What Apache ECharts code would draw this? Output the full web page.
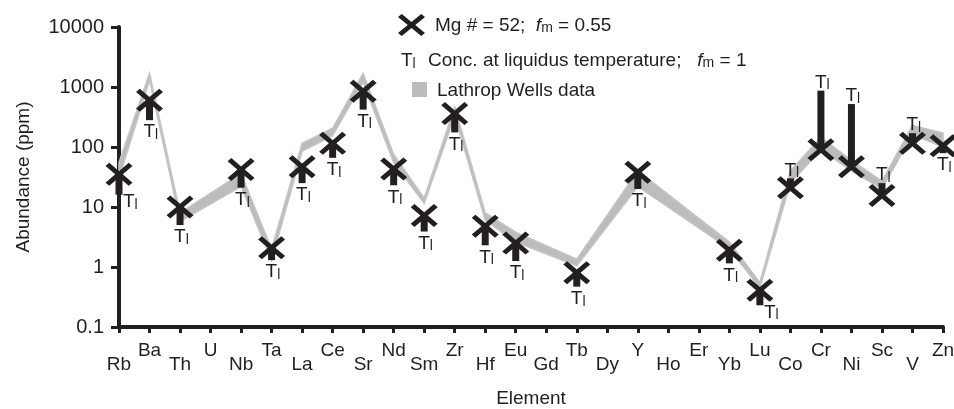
<!DOCTYPE html>
<html><head><meta charset="utf-8">
<script src="https://cdn.jsdelivr.net/npm/echarts@6/dist/echarts.min.js"></script>
<style>html,body{margin:0;padding:0;background:#fff}#c{width:954px;height:409px}</style>
</head><body><div id="c"></div>
<script>
// ---- data ----
const elements = ['Rb','Ba','Th','U','Nb','Ta','La','Ce','Sr','Nd','Sm','Zr','Hf','Eu','Gd','Tb','Dy','Y','Ho','Er','Yb','Lu','Co','Cr','Ni','Sc','V','Zn'];
const mg52       = [35, 600, 10, null, 42, 2.1, 47, 115, 850, 43, 7.2, 360, 4.8, 2.5, null, 0.8, null, 38, null, null, 1.9, 0.41, 21, 90, 47, 15.5, 115, 105];
const liquidus   = [16, 280, 5, null, 21, 1.3, 25, 66, 420, 23, 3.9, 175, 2.3, 1.26, null, 0.47, null, 20, null, null, 1.15, 0.23, 30, 870, 520, 25, 170, 79];
const lathropLow = [30, 1300, 5.7, null, 22, 1.3, 85, 155, 1200, 55, 11.5, 330, 6, 2.6, null, 1.05, null, 22, null, null, 2.0, 0.45, 25, 90, 40, 20, 160, 100];
const lathropHigh= [55, 1700, 8, null, 36, 2.0, 115, 205, 1700, 75, 14, 470, 8, 3.8, null, 1.35, null, 40, null, null, 2.6, 0.55, 40, 145, 60, 27, 230, 170];
const yTicks = [0.1, 1, 10, 100, 1000, 10000];

// ---- style ----
const FONT = 'Liberation Sans, Arial, Helvetica, sans-serif';
const INK = '#231f20';
const BAND = '#bbbcbe';
const X_PTS = [[0,14],[14,0],[50,36],[86,0],[100,14],[64,50],[100,86],[86,100],[50,64],[14,100],[0,86],[36,50]];
const X_PATH = 'path://M' + X_PTS.map(p => p.join(',')).join('L') + 'Z';
const sideLabel = { Rb: true, Lu: true };
const tlRich = {
  t: { fontSize: 19, fontFamily: FONT, fill: INK, color: INK, lineHeight: 20 },
  s: { fontSize: 14, fontFamily: FONT, fill: INK, color: INK, lineHeight: 14, verticalAlign: 'bottom' }
};

const chart = echarts.init(document.getElementById('c'), null, { renderer: 'canvas' });

function renderBand(params, api) {
  if (params.dataIndex !== 0) return;
  const upper = [], lower = [];
  for (let i = 0; i < elements.length; i++) {
    if (lathropLow[i] == null || lathropHigh[i] == null) continue;
    upper.push(api.coord([i, lathropHigh[i]]));
    lower.push(api.coord([i, lathropLow[i]]));
  }
  const pts = upper.concat(lower.reverse());
  return { type: 'polygon', shape: { points: pts }, style: { fill: BAND, stroke: '#c3c4c6', lineWidth: 1.5 } };
}

function renderBar(params, api) {
  const i = params.dataIndex;
  const m = mg52[i], t = liquidus[i];
  if (m == null || t == null) return;
  const p1 = api.coord([i, m]), p2 = api.coord([i, t]);
  const w = 7;
  const top = Math.min(p1[1], p2[1]);
  const h = Math.abs(p1[1] - p2[1]);
  const up = t > m;
  let tx, ty, va;
  if (sideLabel[elements[i]]) { tx = p1[0] + 4; ty = p2[1] - 3; va = 'top'; }
  else if (up) { tx = p1[0] - 6; ty = p2[1] + 2; va = 'bottom'; }
  else { tx = p1[0] - 6; ty = p2[1] + 2; va = 'top'; }
  return {
    type: 'group',
    children: [
      { type: 'rect', shape: { x: p1[0] - w / 2, y: top, width: w, height: h }, style: { fill: INK } },
      { type: 'text', x: tx, y: ty, style: { text: '{t|T}{s|l}', rich: tlRich, align: 'left', verticalAlign: va } }
    ]
  };
}

const legendRich = {
  i: { fontStyle: 'italic', fontSize: 19, fontFamily: FONT, fill: INK },
  s: { fontSize: 14, fontFamily: FONT, fill: INK, verticalAlign: 'bottom', lineHeight: 14 }
};

chart.setOption({
  animation: false,
  backgroundColor: '#fff',
  grid: { left: 119, right: 11, top: 27, bottom: 82, containLabel: false, outerBoundsMode: 'none' },
  xAxis: {
    type: 'category',
    data: elements,
    boundaryGap: false,
    name: 'Element',
    nameLocation: 'middle',
    nameGap: 62,
    nameTextStyle: { fontSize: 19, fontFamily: FONT, color: INK },
    axisLine: { lineStyle: { color: INK, width: 4 } },
    axisTick: { show: true, length: 6, inside: false, lineStyle: { color: INK, width: 3 }, interval: 0 },
    axisLabel: {
      interval: 0, margin: 14, color: INK, fontSize: 19, fontFamily: FONT,
      formatter: (v, idx) => (idx % 2 === 0 ? '{lo|' + v + '}' : '{hi|' + v + '}'),
      rich: {
        lo: { fontSize: 19, fontFamily: FONT, color: INK, padding: [14, 0, 0, 0] },
        hi: { fontSize: 19, fontFamily: FONT, color: INK }
      }
    },
    splitLine: { show: false }
  },
  yAxis: {
    type: 'log',
    logBase: 10,
    min: yTicks[0],
    max: yTicks[yTicks.length - 1],
    name: 'Abundance (ppm)',
    nameLocation: 'middle',
    nameGap: 86,
    nameTextStyle: { fontSize: 19, fontFamily: FONT, color: INK },
    axisLine: { show: true, lineStyle: { color: INK, width: 4 } },
    axisTick: { show: true, length: 8, lineStyle: { color: INK, width: 3 } },
    minorTick: { show: false },
    axisLabel: {
      margin: 15, color: INK, fontSize: 20, fontFamily: FONT,
      formatter: v => String(+(+v).toPrecision(3))
    },
    splitLine: { show: false }
  },
  series: [
    { type: 'custom', name: 'Lathrop Wells data', renderItem: renderBand, data: [[0, 1]], z: 1, silent: true },
    { type: 'custom', name: 'Conc. at liquidus temperature', renderItem: renderBar, data: liquidus.map((v, i) => [i, v == null ? 1 : v]), z: 3, silent: true },
    {
      type: 'scatter', name: 'Mg # = 52', data: mg52.map((v, i) => [i, v]),
      symbol: X_PATH, symbolSize: [27, 23], itemStyle: { color: INK, opacity: 1 }, z: 4, silent: true
    }
  ],
  graphic: [
    { type: 'polygon', shape: { points: X_PTS.map(p => [398 + p[0] * 0.27, 14 + p[1] * 0.22]) }, style: { fill: INK } },
    { type: 'text', x: 435, y: 26, style: { text: 'Mg # = 52;  {i|f}{s|m} = 0.55', rich: legendRich, fill: INK, font: '19px ' + FONT, verticalAlign: 'middle' } },
    { type: 'text', x: 401, y: 61, style: { text: '{t|T}{s|l}', rich: tlRich, verticalAlign: 'middle' } },
    { type: 'text', x: 428, y: 61, style: { text: 'Conc. at liquidus temperature;   {i|f}{s|m} = 1', rich: legendRich, fill: INK, font: '19px ' + FONT, verticalAlign: 'middle' } },
    { type: 'rect', shape: { x: 412, y: 82, width: 15, height: 15 }, style: { fill: BAND } },
    { type: 'text', x: 437, y: 91, style: { text: 'Lathrop Wells data', fill: INK, font: '19px ' + FONT, verticalAlign: 'middle' } }
  ]
});
</script>
</body></html>
